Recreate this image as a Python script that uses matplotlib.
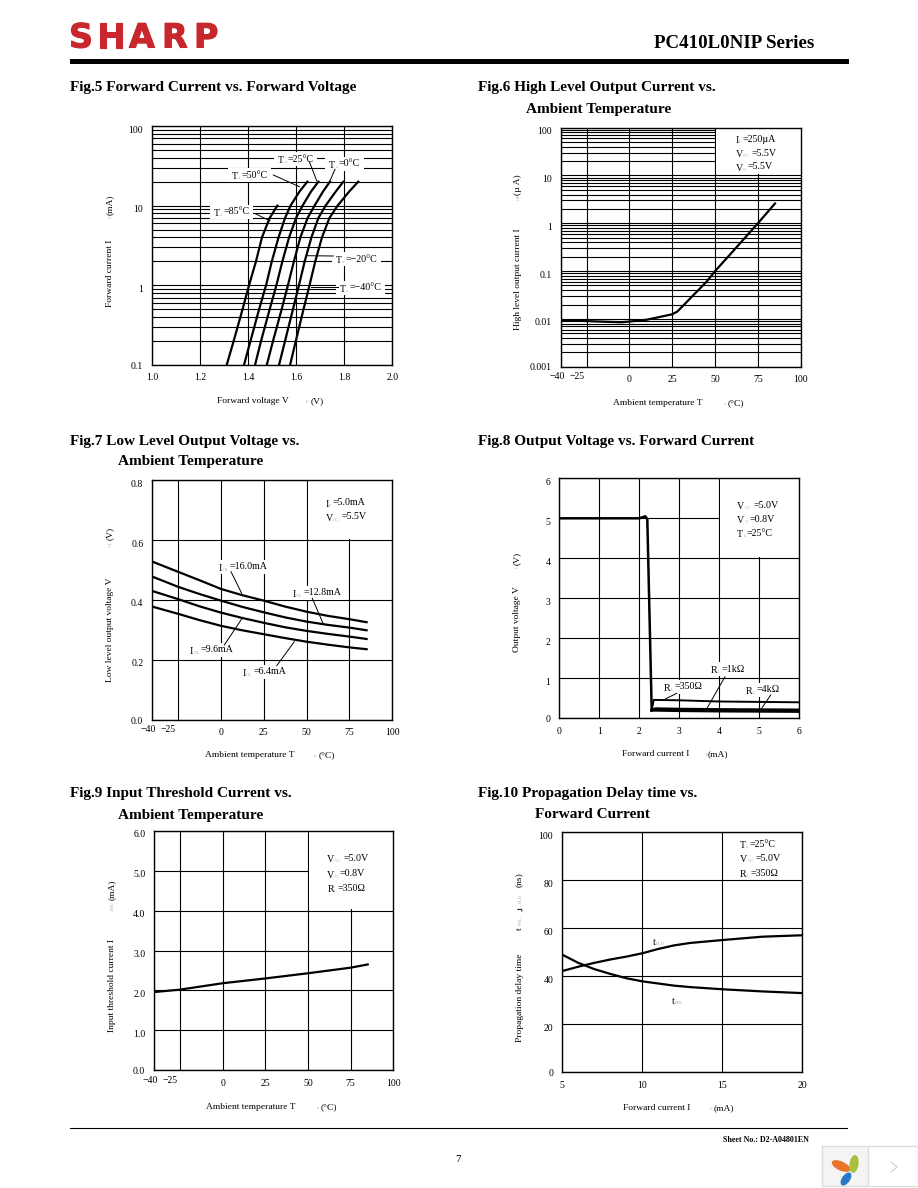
import matplotlib
matplotlib.use('Agg')
import matplotlib.pyplot as plt
import matplotlib.patheffects as pe
from matplotlib.patches import Rectangle, Ellipse
from matplotlib.ticker import LogLocator, NullFormatter
from matplotlib.transforms import ScaledTranslation

plt.rcParams['font.family'] = ['Liberation Serif', 'DejaVu Serif']

# Fig.5 forward current vs forward voltage
fig5_current = [0.1, 0.2, 0.5, 1, 2, 4, 7, 10, 15, 20]
fig5_m40 = [1.574, 1.598, 1.630, 1.655, 1.679, 1.707, 1.738, 1.772, 1.820, 1.858]
fig5_m20 = [1.528, 1.553, 1.586, 1.611, 1.635, 1.663, 1.692, 1.722, 1.764, 1.796]
fig5_0 = [1.477, 1.503, 1.539, 1.565, 1.590, 1.617, 1.647, 1.676, 1.711, 1.740]
fig5_25 = [1.428, 1.453, 1.489, 1.517, 1.542, 1.570, 1.599, 1.626, 1.661, 1.692]
fig5_50 = [1.382, 1.409, 1.445, 1.474, 1.498, 1.526, 1.553, 1.576, 1.613, 1.646]
fig5_85_current = [0.1, 0.2, 0.5, 1, 2, 4, 7, 10]
fig5_85 = [1.310, 1.339, 1.376, 1.403, 1.432, 1.457, 1.489, 1.521]

# Fig.6 high level output current
fig6_temp = [-40, -25, -5, 0, 10, 25, 28, 45, 50, 60, 75, 85]
fig6_ioh = [0.0095, 0.009, 0.0085, 0.0088, 0.0096, 0.0125, 0.0143, 0.06, 0.1, 0.25, 1.0, 2.6]

# Fig.7 low level output voltage
fig7_temp = [-40, -25, -12.5, 0, 12.5, 25, 37.5, 50, 62.5, 75, 85]
fig7_16 = [0.528, 0.494, 0.466, 0.437, 0.416, 0.398, 0.378, 0.361, 0.347, 0.336, 0.326]
fig7_128 = [0.478, 0.444, 0.420, 0.398, 0.377, 0.359, 0.342, 0.328, 0.317, 0.308, 0.299]
fig7_96 = [0.430, 0.403, 0.379, 0.358, 0.340, 0.324, 0.309, 0.297, 0.287, 0.278, 0.270]
fig7_64 = [0.378, 0.354, 0.333, 0.314, 0.299, 0.286, 0.273, 0.261, 0.251, 0.242, 0.236]

# Fig.8 output voltage vs forward current
fig8_if = [0, 2.0, 2.15, 2.2, 2.31]
fig8_vo = [5.0, 5.0, 5.05, 4.98, 0.2]
fig8_350_if = [2.31, 2.36, 3, 4, 6]
fig8_350 = [0.2, 0.46, 0.45, 0.42, 0.40]
fig8_1k_if = [2.31, 2.4, 3, 4, 6]
fig8_1k = [0.2, 0.24, 0.23, 0.22, 0.21]
fig8_4k_if = [2.31, 2.4, 3, 4, 6]
fig8_4k = [0.2, 0.2, 0.19, 0.18, 0.17]

# Fig.9 input threshold current
fig9_temp = [-40, -25, 0, 25, 50, 75, 85]
fig9_ifhl = [1.96, 2.02, 2.18, 2.30, 2.43, 2.57, 2.65]

# Fig.10 propagation delay
fig10_if = [5, 6, 7, 8, 9, 10, 11, 12, 13, 15, 17.5, 20]
fig10_tplh = [42.2, 44, 45.6, 47, 48.2, 49.6, 51.4, 52.9, 53.9, 55.1, 56.5, 57.1]
fig10_tphl = [49, 45.6, 43, 41, 39.2, 37.9, 37, 36.1, 35.5, 34.6, 33.7, 33]

temp_ticks = [-40, -25, 0, 25, 50, 75, 100]
temp_grid_labels = ['\u221240', '\u221225', '0', '25', '50', '75', '100']

fig = plt.figure(figsize=(9.18, 11.88), dpi=100)
page = fig.add_axes([0, 0, 1, 1], zorder=5)
page.set_xlim(0, 918)
page.set_ylim(1188, 0)
page.axis('off')
page.patch.set_alpha(0)
renderer = fig.canvas.get_renderer()


def chart(left, top, right, bottom, xlim, ylim, xticks, yticks, xlabels, ylabels, log=False, mask=None):
    ax = fig.add_axes([left / 918, 1 - bottom / 1188, (right - left) / 918, (bottom - top) / 1188], zorder=1)
    ax.set_xlim(*xlim)
    if log:
        ax.set_yscale('log')
        ax.yaxis.set_minor_locator(LogLocator(10, subs=range(2, 10), numticks=20))
        ax.yaxis.set_minor_formatter(NullFormatter())
    ax.set_ylim(*ylim)
    ax.set_xticks(xticks)
    ax.set_xticklabels(xlabels, fontsize=7)
    ax.set_yticks(yticks)
    ax.set_yticklabels(ylabels, fontsize=7)
    ax.tick_params(which='both', length=0)
    ax.tick_params(axis='x', pad=6)
    ax.tick_params(axis='y', pad=6.5)
    ax.set_axisbelow(True)
    ax.grid(True, which='both' if log else 'major', color='black', lw=0.8)
    for s in ax.spines.values():
        s.set_linewidth(1.0)
    if mask:
        ax.add_patch(Rectangle((mask[0], mask[1]), mask[2] - mask[0], mask[3] - mask[1], fc='white', ec='none', zorder=1))
    # y labels sit a little below their lines, except the bottom one
    for i, t in enumerate(ax.get_yticklabels()):
        if i > 0:
            t.set_transform(t.get_transform() + ScaledTranslation(0, -3 / 100, fig.dpi_scale_trans))
    return ax


def shift_first_two(ax):
    labs = ax.get_xticklabels()
    labs[0].set_transform(labs[0].get_transform() + ScaledTranslation(-4 / 100, 3 / 100, fig.dpi_scale_trans))
    labs[1].set_transform(labs[1].get_transform() + ScaledTranslation(-10 / 100, 3 / 100, fig.dpi_scale_trans))


def sub_text(x, y, main, sub, rest, gap=1, size=7.2, masked=False):
    a = page.text(x, y + 1.5, main, fontsize=size, ha='left', va='center', zorder=3)
    x1 = a.get_window_extent(renderer).x1
    b = page.text(x1, y + 3, sub, fontsize=3.5, color='#b0b0b0', ha='left', va='center', zorder=3)
    x2 = b.get_window_extent(renderer).x1 + gap
    c = page.text(x2, y, rest, fontsize=size, ha='left', va='center', zorder=3)
    if masked:
        x3 = c.get_window_extent(renderer).x1
        page.add_patch(Rectangle((x - 4, y - 7), x3 - x + 8, 14, fc='white', ec='none', zorder=1))


def leader(p0, p1):
    page.plot([p0[0], p1[0]], [p0[1], p1[1]], color='black', lw=0.7, zorder=2)


def title(x, y, s):
    page.text(x, y, s, fontsize=11, fontweight='bold', ha='left', va='center', zorder=3)


def xlab(x, y, main, sub_x, sub, rest_x, rest):
    page.text(x, y, main, fontsize=6.8, ha='left', va='center')
    page.text(sub_x, y + 1, sub, fontsize=3.5, color='#b0b0b0', ha='left', va='center')
    page.text(rest_x, y, rest, fontsize=6.8, ha='left', va='center')


def ylab(x, main_y, main, sub_y, sub, rest_y, rest):
    page.text(x, main_y, main, fontsize=6.8, rotation=90, ha='center', va='bottom')
    page.text(x + 1, sub_y, sub, fontsize=3.5, color='#b0b0b0', rotation=90, ha='center', va='bottom')
    page.text(x, rest_y, rest, fontsize=6.8, rotation=90, ha='center', va='bottom')


# header and footer
logo_lefts = [69, 97, 129, 162, 194]
for ch, lx in zip('SHARP', logo_lefts):
    t = page.text(lx, 38, ch, fontsize=24, fontweight='bold', family='DejaVu Sans', color='#c8282d',
                  ha='left', va='center')
    t.set_path_effects([pe.withStroke(linewidth=0.8, foreground='#c8282d')])
page.text(654, 44, 'PC410L0NIP Series', fontsize=13.6, fontweight='bold', ha='left', va='center')
page.add_patch(Rectangle((70, 59), 779, 5, fc='black', ec='none'))
page.plot([70, 847], [1127.5, 1127.5], color='black', lw=0.8)
page.text(723, 1140, 'Sheet No.: D2-A04801EN', fontsize=5.75, fontweight='bold', ha='left', va='center')
page.text(458, 1160, '7', fontsize=8, ha='center', va='center')

# small widget at the bottom right corner
page.add_patch(Rectangle((822, 1146), 46, 40, fc='#f4f4f4', ec='#dddddd', lw=1))
page.add_patch(Rectangle((868, 1146), 50, 40, fc='white', ec='#dddddd', lw=1))
page.add_patch(Ellipse((841, 1166), 20, 9, angle=25, fc='#e8742a', ec='none'))
page.add_patch(Ellipse((854, 1164), 9, 18, angle=8, fc='#a8c03c', ec='none'))
page.add_patch(Ellipse((846, 1179), 8, 15, angle=35, fc='#2a78c8', ec='none'))
page.plot([891, 897, 891], [1162, 1167, 1172], color='#cccccc', lw=0.8)

# Fig.5
title(70, 88, 'Fig.5 Forward Current vs. Forward Voltage')
ax5 = chart(152.3, 126, 392.3, 365, (1.0, 2.0), (0.1, 100), [1.0, 1.2, 1.4, 1.6, 1.8, 2.0], [0.1, 1, 10, 100],
            ['1.0', '1.2', '1.4', '1.6', '1.8', '2.0'], ['0.1', '1', '10', '100'], log=True)
ax5.plot(fig5_85, fig5_85_current, color='black', lw=1.6)
for v in [fig5_50, fig5_25, fig5_0, fig5_m20, fig5_m40]:
    ax5.plot(v, fig5_current, color='black', lw=1.6)
sub_text(278.3, 159, 'T', 'a', '=25\u00b0C', masked=True)
sub_text(329.3, 164, 'T', 'a', '=0\u00b0C', masked=True)
sub_text(232, 175, 'T', 'a', '=50\u00b0C', masked=True)
sub_text(214, 211.7, 'T', 'a', '=85\u00b0C', masked=True)
sub_text(336, 259, 'T', 'a', '=\u221220\u00b0C', masked=True)
sub_text(340, 288, 'T', 'a', '=\u221240\u00b0C', masked=True)
leader((309.3, 161.7), (316.7, 180.7))
leader((335, 169.3), (330, 180.7))
leader((273.3, 175), (299.3, 186.7))
leader((256, 214), (270, 221))
leader((333.3, 256), (306.7, 255.7))
leader((338.3, 286.7), (310.7, 286.7))
xlab(216.7, 401, 'Forward voltage V', 306, 'F', 310.7, '(V)')
ylab(110, 307, 'Forward current I', 218, 'F', 215, '(mA)')

# Fig.6
title(478, 88, 'Fig.6 High Level Output Current vs.')
title(526, 110, 'Ambient Temperature')
ax6 = chart(561, 127.7, 800.7, 366.7, (-40, 100), (0.001, 100), temp_ticks, [0.001, 0.01, 0.1, 1, 10, 100],
            temp_grid_labels, ['0.001', '0.01', '0.1', '1', '10', '100'], log=True, mask=(50.8, 10.5, 100, 100))
ax6.plot(fig6_temp, fig6_ioh, color='black', lw=1.6)
shift_first_two(ax6)
sub_text(735.7, 139, 'I', 'F', '=250\u00b5A')
sub_text(735.7, 153.3, 'V', 'CC', '=5.5V', gap=2)
sub_text(735.7, 166.7, 'V', 'O', '=5.5V')
xlab(613.3, 403, 'Ambient temperature T', 724, 'a', 728, '(\u00b0C)')
ylab(517.7, 330, 'High level output current I', 200, 'OH', 195, '(\u00b5 A)')

# Fig.7
title(70, 441, 'Fig.7 Low Level Output Voltage vs.')
title(118, 462, 'Ambient Temperature')
ax7 = chart(152.3, 480, 392.3, 720, (-40, 100), (0, 0.8), temp_ticks, [0, 0.2, 0.4, 0.6, 0.8],
            temp_grid_labels, ['0.0', '0.2', '0.4', '0.6', '0.8'], mask=(50.8, 0.605, 100, 0.8))
for v in [fig7_16, fig7_128, fig7_96, fig7_64]:
    ax7.plot(fig7_temp, v, color='black', lw=1.6)
shift_first_two(ax7)
sub_text(325.7, 502.7, 'I', 'F', '=5.0mA')
sub_text(325.7, 516.7, 'V', 'CC', '=5.5V', gap=2)
sub_text(219, 566.7, 'I', 'OL', '=16.0mA', masked=True)
sub_text(292.7, 592.7, 'I', 'OL', '=12.8mA', masked=True)
sub_text(190, 650, 'I', 'OL', '=9.6mA', masked=True)
sub_text(242.7, 671.7, 'I', 'OL', '=6.4mA', masked=True)
leader((231, 571.7), (241.7, 593.3))
leader((312.3, 598.3), (323.3, 624))
leader((224.3, 645), (241.7, 619))
leader((276.7, 665.7), (294.3, 641.7))
xlab(205.3, 755, 'Ambient temperature T', 314, 'a', 319, '(\u00b0C)')
ylab(110, 681.7, 'Low level output voltage V', 547, 'OL', 540, '(V)')

# Fig.8
title(478, 441, 'Fig.8 Output Voltage vs. Forward Current')
ax8 = chart(559.3, 478.3, 799.3, 718.3, (0, 6), (0, 6), range(7), range(7),
            [str(i) for i in range(7)], [str(i) for i in range(7)], mask=(4.03, 4.03, 6, 6))
ax8.plot(fig8_if, fig8_vo, color='black', lw=1.8)
ax8.plot(fig8_350_if, fig8_350, color='black', lw=1.4)
ax8.plot(fig8_1k_if, fig8_1k, color='black', lw=2.0)
ax8.plot(fig8_4k_if, fig8_4k, color='black', lw=2.0)
sub_text(737.3, 505, 'V', 'CC', '=5.0V', gap=2)
sub_text(737.3, 519, 'V', 'O', '=0.8V')
sub_text(737.3, 533.3, 'T', 'a', '=25\u00b0C')
sub_text(664, 686.7, 'R', 'L', '=350\u03a9', masked=True)
sub_text(711, 669.3, 'R', 'L', '=1k\u03a9', masked=True)
sub_text(746, 690, 'R', 'L', '=4k\u03a9', masked=True)
leader((676.7, 693.3), (663.3, 700))
leader((725, 676.7), (707.3, 707.7))
leader((770.7, 695), (761.7, 708.3))
xlab(622, 754, 'Forward current I', 706, 'F', 708, '(mA)')
ylab(517, 652, 'Output voltage V', 568, 'O', 565, '(V)')

# Fig.9
title(70, 793, 'Fig.9 Input Threshold Current vs.')
title(118, 815, 'Ambient Temperature')
ax9 = chart(154.3, 830.7, 393.3, 1070.3, (-40, 100), (0, 6), temp_ticks, range(7),
            temp_grid_labels, ['0.0', '1.0', '2.0', '3.0', '4.0', '5.0', '6.0'], mask=(50.8, 4.03, 100, 6))
ax9.plot(fig9_temp, fig9_ifhl, color='black', lw=1.6)
shift_first_two(ax9)
sub_text(327.3, 858.3, 'V', 'CC', '=5.0V', gap=2)
sub_text(327.3, 874, 'V', 'O', '=0.8V')
sub_text(327.3, 888.3, 'R', 'L', '=350\u03a9')
xlab(206, 1106.7, 'Ambient temperature T', 316.7, 'a', 320.7, '(\u00b0C)')
ylab(112, 1031.7, 'Input threshold current I', 910, 'FHL', 900, '(mA)')

# Fig.10
title(478, 793, 'Fig.10 Propagation Delay time vs.')
title(535, 815, 'Forward Current')
ax10 = chart(562.3, 832.3, 802.3, 1072.3, (5, 20), (0, 100), [5, 10, 15, 20], [0, 20, 40, 60, 80, 100],
             ['5', '10', '15', '20'], ['0', '20', '40', '60', '80', '100'])
ax10.plot(fig10_if, fig10_tplh, color='black', lw=1.6)
ax10.plot(fig10_if, fig10_tphl, color='black', lw=1.6)
sub_text(740, 844.3, 'T', 'a', '=25\u00b0C')
sub_text(740, 858.3, 'V', 'CC', '=5.0V', gap=2)
sub_text(740, 873.3, 'R', 'L', '=350\u03a9')
sub_text(653.3, 941, 't', 'PLH', '', size=7.2)
sub_text(672.3, 1000, 't', 'PHL', '', size=7.2)
xlab(622.7, 1108, 'Forward current I', 710, 'F', 714, '(mA)')
page.text(520, 1041.7, 'Propagation delay time', fontsize=6.8, rotation=90, ha='center', va='bottom')
page.text(520, 930, 't', fontsize=6.8, rotation=90, ha='center', va='bottom')
page.text(521, 925, 'PHL', fontsize=3.5, color='#b0b0b0', rotation=90, ha='center', va='bottom')
page.text(520, 911, ',t', fontsize=6.8, rotation=90, ha='center', va='bottom')
page.text(521, 903, 'PLH', fontsize=3.5, color='#b0b0b0', rotation=90, ha='center', va='bottom')
page.text(520, 887, '(ns)', fontsize=6.8, rotation=90, ha='center', va='bottom')

fig.savefig('out.png', dpi=100, facecolor='white')
